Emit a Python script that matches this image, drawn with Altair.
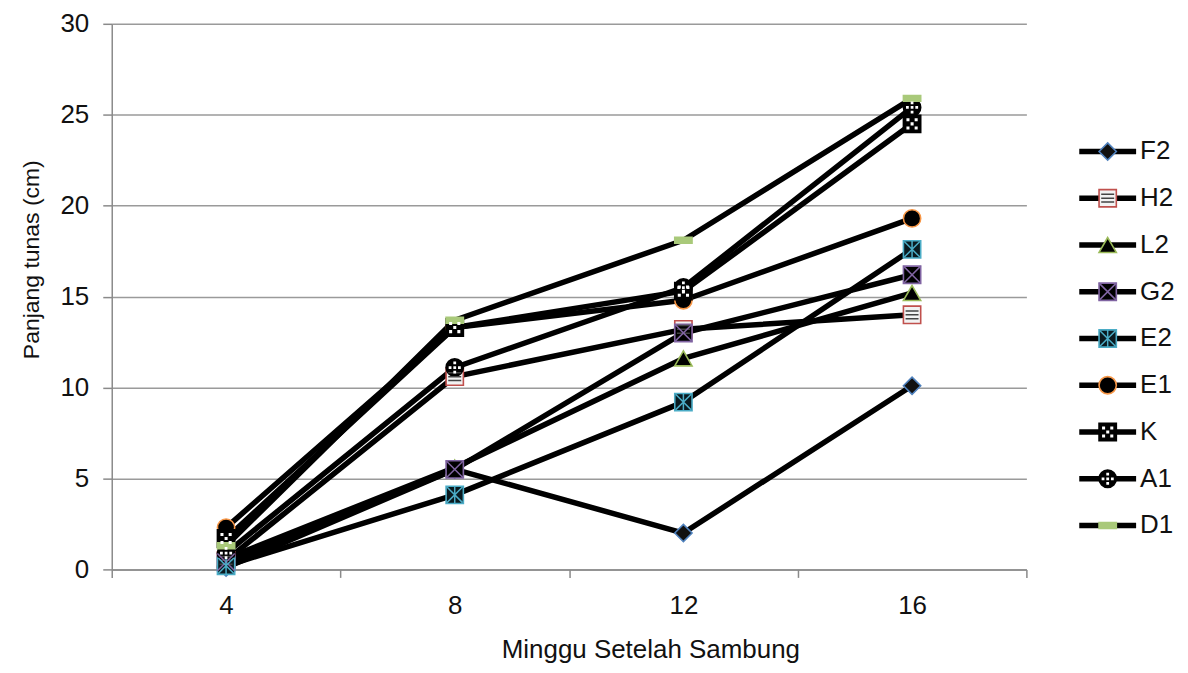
import altair as alt
import pandas as pd

# ---- data ----
names = ["F2", "H2", "L2", "G2", "E2", "E1", "K", "A1", "D1"]
weeks = [4, 8, 12, 16]
F2 = [0.1, 5.5, 2.0, 10.1]
H2 = [0.5, 10.6, 13.2, 14.0]
L2 = [0.6, 5.6, 11.6, 15.2]
G2 = [0.4, 5.5, 13.0, 16.2]
E2 = [0.2, 4.1, 9.2, 17.6]
E1 = [2.3, 13.3, 14.8, 19.3]
K = [1.7, 13.3, 15.3, 24.5]
A1 = [0.9, 11.1, 15.5, 25.4]
D1 = [1.3, 13.7, 18.1, 25.9]
series_values = [F2, H2, L2, G2, E2, E1, K, A1, D1]

y_ticks = [0, 5, 10, 15, 20, 25, 30]
x_ticks = [2, 4, 6, 8, 10, 12, 14, 16, 18]

rows = []
for n, vals in zip(names, series_values):
    for w, v in zip(weeks, vals):
        rows.append({"series": n, "week": w, "value": v})
df = pd.DataFrame(rows)
leg_df = pd.DataFrame({"series": names, "idx": list(range(len(names)))})

FONT = "Liberation Sans"

# marker styling (Excel 2007 palette)
base_shapes = ["diamond", "square", "triangle-up", "square", "square",
               "circle", "square", "circle", "M-1,-0.33H1V0.33H-1Z"]
base_fill = ["#111111", "#f2f2f2", "#000000", "#000000", "#0a1a20",
             "#000000", "#000000", "#000000", "#a9c97a"]
base_stroke = ["#4F81BD", "#C0504D", "#9BBB59", "#8064A2", "#4BACC6",
               "#F79646", "#000000", "#000000", "#a9c97a"]

ov_names = ["H2", "G2", "E2", "K", "A1"]
ov_shapes = [
    "M-0.75,-0.45H0.75M-0.75,0H0.75M-0.75,0.45H0.75",
    "M-1,-1L1,1M-1,1L1,-1",
    "M-0.9,-0.9L0.9,0.9M-0.9,0.9L0.9,-0.9M0,-1V1",
    "M-0.65,-0.65h0.35v0.35h-0.35Z M0.3,-0.65h0.35v0.35h-0.35Z M-0.17,-0.17h0.35v0.35h-0.35Z M-0.65,0.3h0.35v0.35h-0.35Z M0.3,0.3h0.35v0.35h-0.35Z",
    "M-0.16,-0.7h0.32v0.32h-0.32Z M-0.7,-0.16h0.32v0.32h-0.32Z M0.38,-0.16h0.32v0.32h-0.32Z M-0.16,0.38h0.32v0.32h-0.32Z M-0.16,-0.16h0.32v0.32h-0.32Z",
]
ov_fill = ["transparent", "transparent", "transparent", "#ffffff", "#ffffff"]
ov_stroke = ["#444444", "#8064A2", "#4BACC6", "transparent", "transparent"]


def marker_layers(chart, x_enc, y_enc):
    base = chart.mark_point(filled=True, opacity=1, size=300, strokeWidth=1.6).encode(
        x=x_enc, y=y_enc,
        shape=alt.Shape("series:N", scale=alt.Scale(domain=names, range=base_shapes), legend=None),
        fill=alt.Fill("series:N", scale=alt.Scale(domain=names, range=base_fill), legend=None),
        stroke=alt.Stroke("series:N", scale=alt.Scale(domain=names, range=base_stroke), legend=None),
    )
    over = chart.transform_filter(
        alt.FieldOneOfPredicate(field="series", oneOf=ov_names)
    ).mark_point(filled=True, opacity=1, size=300, strokeWidth=1.5).encode(
        x=x_enc, y=y_enc,
        shape=alt.Shape("series:N", scale=alt.Scale(domain=ov_names, range=ov_shapes), legend=None),
        fill=alt.Fill("series:N", scale=alt.Scale(domain=ov_names, range=ov_fill), legend=None),
        stroke=alt.Stroke("series:N", scale=alt.Scale(domain=ov_names, range=ov_stroke), legend=None),
    )
    return base, over


x_enc = alt.X(
    "week:Q",
    scale=alt.Scale(domain=[2, 18], nice=False, zero=False),
    axis=alt.Axis(
        values=x_ticks,
        labelExpr="datum.value % 4 === 0 ? datum.label : ''",
        tickOpacity={"condition": {"test": "datum.value % 4 === 0", "value": 0}, "value": 1},
        grid=False,
        title="Minggu Setelah Sambung",
        titleX=540,
        titleFontSize=26,
        titleFontWeight="normal",
        titlePadding=18,
        labelFontSize=26,
        labelPadding=15,
        labelFlush=False,
        tickSize=8,
        tickWidth=1.5,
        tickColor="#8a8a8a",
        domainColor="#8a8a8a",
        domainWidth=1.5,
        labelColor="#111111",
        titleColor="#111111",
    ),
)
y_enc = alt.Y(
    "value:Q",
    scale=alt.Scale(domain=[0, 30], nice=False),
    axis=alt.Axis(
        values=y_ticks,
        grid=True,
        gridColor="#9a9a9a",
        gridWidth=1.5,
        title="Panjang  tunas (cm)",
        titleY=236,
        titleFontSize=23,
        titleFontWeight="normal",
        titlePadding=16,
        labelFontSize=26,
        labelPadding=14,
        tickSize=9,
        tickWidth=1.5,
        tickColor="#8a8a8a",
        domainColor="#8a8a8a",
        domainWidth=1.5,
        labelColor="#111111",
        titleColor="#111111",
    ),
)

main_base = alt.Chart(df)
lines = main_base.mark_line(color="black", strokeWidth=5.5, strokeJoin="round").encode(
    x=x_enc, y=y_enc, detail="series:N"
)
m_base, m_over = marker_layers(main_base, x_enc, y_enc)
main = alt.layer(lines, m_base, m_over).resolve_scale(
    shape="independent", fill="independent", stroke="independent"
).properties(width=917, height=547)

# ---- custom legend panel ----
leg_y = alt.Y("idx:Q", scale=alt.Scale(domain=[0, 8], range=[128, 503], nice=False, zero=False), axis=None)
leg_base = alt.Chart(leg_df)
leg_rule = leg_base.mark_rule(color="black", strokeWidth=5.5).encode(
    x=alt.value(0), x2=alt.value(57), y=leg_y
)
lm_base, lm_over = marker_layers(leg_base, alt.value(28.5), leg_y)
leg_text = leg_base.mark_text(align="left", baseline="middle", fontSize=26, color="#111111", font=FONT).encode(
    x=alt.value(61), y=leg_y, text="series:N"
)
legend = alt.layer(leg_rule, lm_base, lm_over, leg_text).resolve_scale(
    shape="independent", fill="independent", stroke="independent"
).properties(width=57, height=547)

chart = alt.hconcat(main, legend, spacing=49).resolve_scale(
    shape="independent", fill="independent", stroke="independent"
).properties(
    padding={"left": 13, "top": 2, "right": 5, "bottom": 5}
).configure(font=FONT, background="white").configure_view(stroke=None)

chart.save("out.html", embed_options={"renderer": "svg", "actions": False})
